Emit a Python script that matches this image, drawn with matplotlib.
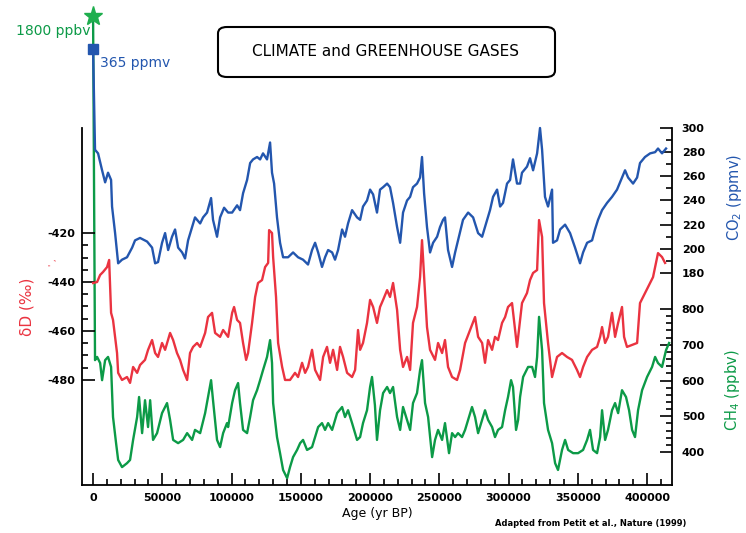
import numpy as np
import matplotlib
matplotlib.use("Agg")
from matplotlib import pyplot as plt
from matplotlib.patches import FancyBboxPatch

# Vostok ice core record: deuterium, CO2 and CH4 over the last four glacial cycles
co2_age = [1400, 3600, 6500, 8700, 10800, 13000, 13700, 15900, 18100, 20900,
           24500, 28200, 30300, 33900, 39000, 42600, 44800, 46900, 49800, 52000,
           54200, 57000, 59200, 61400, 64300, 66400, 68600, 71500, 73600, 77300,
           79400, 82300, 85200, 86600, 89500, 91700, 94600, 97500, 100400, 104000,
           106100, 108300, 111200, 113400, 115500, 118400, 120600, 122700, 125600, 127800,
           129200, 130700, 132800, 135000, 137200, 140800, 144400, 148000, 151600, 155200,
           158100, 160300, 162500, 165300, 167500, 169700, 172600, 174700, 176900, 179800,
           181900, 184100, 187000, 190600, 192800, 194900, 197800, 200000, 202200, 205000,
           207200, 209400, 212300, 214400, 216600, 219500, 221700, 223800, 226700, 228900,
           231000, 233900, 236100, 237500, 239000, 241100, 243300, 245500, 248400, 250500,
           252700, 254100, 256300, 259200, 261400, 263500, 267100, 270800, 274400, 278000,
           280900, 283000, 286600, 288800, 291700, 293900, 296000, 298900, 301100, 303200,
           306100, 308300, 309700, 313300, 315500, 317700, 320600, 322700, 324200, 326300,
           328500, 331400, 332100, 335000, 337200, 340800, 344400, 348000, 351600, 353800,
           356700, 360300, 362400, 364600, 367500, 371100, 374700, 378300, 381900, 384100,
           386300, 389900, 392800, 394900, 398500, 402200, 405800, 407900, 410800, 413700]
co2_ppmv = [282, 279, 265, 255, 263, 257, 235, 213, 188, 191,
            193, 201, 207, 209, 206, 201, 188, 189, 205, 213,
            199, 210, 216, 201, 197, 192, 207, 218, 226, 221,
            226, 230, 242, 224, 210, 226, 234, 230, 230, 236,
            232, 246, 257, 271, 274, 276, 274, 279, 274, 288,
            263, 254, 226, 205, 193, 193, 197, 193, 191, 187,
            199, 205, 197, 185, 193, 199, 197, 191, 199, 216,
            210, 221, 232, 226, 224, 235, 240, 249, 245, 230,
            249, 251, 254, 251, 238, 218, 205, 230, 240, 243,
            251, 254, 259, 276, 246, 218, 197, 205, 210, 218,
            224, 226, 199, 185, 197, 207, 224, 230, 226, 213,
            210, 218, 232, 243, 249, 235, 238, 254, 257, 274,
            254, 254, 263, 268, 275, 265, 279, 300, 282, 243,
            235, 249, 205, 207, 216, 220, 213, 201, 188, 197,
            205, 207, 216, 224, 232, 238, 243, 249, 259, 265,
            259, 254, 259, 271, 276, 279, 280, 283, 279, 283]

dd_age = [0, 2900, 5100, 7200, 10100, 11600, 13000, 14400, 17300, 18100,
          20900, 24500, 26700, 28900, 31800, 33900, 37500, 39700, 42600, 44800,
          46900, 49800, 52000, 55600, 57800, 60600, 62800, 65000, 67900, 70000,
          72200, 75100, 77300, 80900, 83000, 85900, 88100, 91700, 93900, 97500,
          100400, 101800, 104000, 106100, 108300, 110500, 111900, 114800, 117000, 119100,
          122000, 124200, 126400, 127100, 129200, 130000, 132100, 133600, 136500, 138600,
          142200, 145800, 148000, 150900, 153100, 155200, 158100, 160300, 163900, 166100,
          168900, 171100, 173300, 176200, 178300, 180500, 183400, 187000, 189200, 191300,
          192800, 194900, 197800, 200000, 202200, 205000, 207200, 209400, 212300, 214400,
          216600, 219500, 221700, 223800, 226700, 228900, 231000, 233900, 236100, 237500,
          239000, 241100, 243300, 246900, 249100, 252000, 254100, 256300, 259200, 262800,
          265000, 268600, 272200, 275800, 278000, 280900, 283000, 285200, 288100, 290200,
          292400, 295300, 297500, 299600, 302500, 304700, 306100, 309700, 313300, 315500,
          317700, 320600, 322000, 324200, 325600, 328500, 331400, 335000, 338600, 342200,
          345800, 349400, 351600, 353800, 356700, 360300, 363900, 366100, 367500, 369700,
          371800, 374700, 376900, 379100, 381900, 383400, 385500, 389200, 392800, 394900,
          397100, 400700, 404300, 407900, 410800, 413000]
dd_permil = [-440.4, -440.0, -437.1, -435.9, -433.9, -431.0, -452.6, -455.5, -469.0, -477.1,
             -480.0, -478.8, -481.2, -474.7, -477.1, -473.9, -471.8, -467.7, -463.7, -469.0,
             -470.6, -464.9, -467.7, -460.8, -463.7, -469.0, -471.8, -475.9, -480.0, -469.0,
             -466.5, -464.9, -466.5, -460.8, -454.3, -452.6, -460.8, -462.4, -459.6, -462.4,
             -452.6, -450.2, -455.5, -456.7, -464.9, -471.8, -469.0, -456.7, -446.1, -440.4,
             -439.2, -433.9, -432.2, -418.8, -420.0, -429.8, -446.1, -464.9, -474.7, -480.0,
             -480.0, -477.1, -478.8, -473.0, -477.1, -474.7, -467.7, -475.9, -480.0, -470.6,
             -466.5, -473.0, -467.7, -475.9, -466.5, -470.6, -477.1, -478.8, -475.9, -459.6,
             -467.7, -464.9, -456.7, -447.3, -450.2, -456.7, -450.2, -447.3, -443.3, -446.1,
             -440.4, -451.4, -467.7, -474.7, -470.6, -475.9, -456.7, -450.2, -438.0, -422.9,
             -438.0, -458.4, -467.7, -471.8, -464.9, -469.0, -463.7, -474.7, -478.8, -480.0,
             -475.9, -464.9, -459.6, -454.3, -462.4, -464.9, -473.0, -463.7, -467.7, -462.4,
             -463.7, -456.7, -454.3, -450.2, -448.6, -459.6, -466.5, -448.6, -444.5, -439.2,
             -436.3, -435.1, -414.7, -421.6, -448.6, -464.9, -478.8, -470.6, -469.0, -470.6,
             -471.8, -475.9, -478.8, -474.7, -470.6, -467.7, -466.5, -462.4, -458.4, -464.9,
             -462.4, -452.6, -462.4, -456.7, -450.2, -462.4, -466.5, -465.7, -464.9, -448.6,
             -446.1, -442.0, -438.0, -428.2, -429.8, -432.2]

ch4_age = [1400, 2900, 5100, 6500, 8700, 10800, 13000, 14400, 16600, 18100,
           20900, 24500, 26700, 28900, 31800, 33200, 35400, 37500, 39700, 41200,
           43300, 46200, 49800, 53400, 55600, 57800, 61400, 65000, 67900, 71500,
           73600, 77300, 80900, 83000, 85200, 86600, 89500, 91700, 93900, 96700,
           97500, 100400, 102500, 104700, 106100, 108300, 111200, 113400, 115500, 118400,
           120600, 122700, 125600, 127800, 129200, 130000, 132800, 135000, 137200, 140100,
           142200, 144400, 147300, 149500, 151600, 154500, 158100, 160300, 162500, 165300,
           167500, 169700, 172600, 176200, 179800, 181900, 184100, 187000, 190600, 192800,
           194900, 197800, 200000, 201400, 203500, 205000, 207200, 209400, 212300, 214400,
           216600, 219500, 221700, 223800, 226700, 228900, 231000, 233900, 236100, 237500,
           239700, 241900, 244800, 246900, 249100, 252000, 254100, 257000, 259200, 261400,
           263500, 266400, 268600, 270800, 273600, 275800, 278000, 280900, 283000, 285200,
           288100, 290200, 292400, 295300, 297500, 299600, 301800, 303200, 305400, 306900,
           308300, 310500, 314100, 317000, 319100, 320600, 322000, 324200, 325600, 328500,
           331400, 333600, 335700, 338600, 340800, 343000, 346600, 350200, 353800, 356700,
           358800, 361000, 363900, 366100, 367500, 369700, 371800, 374700, 376900, 379100,
           381900, 384800, 387000, 389200, 391300, 393500, 396400, 400000, 403600, 405800,
           407900, 410800, 413700, 415900]
ch4_ppbv = [657, 666, 649, 601, 657, 666, 638, 498, 425, 378,
            358, 369, 378, 434, 498, 554, 453, 545, 470, 545,
            434, 453, 509, 537, 490, 434, 425, 434, 453, 434,
            462, 453, 509, 554, 601, 545, 434, 414, 453, 481,
            470, 537, 573, 593, 537, 462, 453, 498, 545, 573,
            601, 629, 666, 713, 649, 537, 442, 397, 350, 327,
            358, 386, 406, 425, 434, 406, 414, 442, 470, 481,
            462, 481, 462, 509, 526, 498, 517, 481, 434, 442,
            481, 517, 582, 610, 531, 434, 517, 565, 582, 565,
            582, 498, 462, 526, 490, 462, 537, 565, 629, 657,
            537, 498, 386, 434, 462, 434, 481, 397, 453, 442,
            453, 442, 462, 490, 526, 498, 453, 490, 517, 490,
            470, 442, 462, 470, 517, 554, 601, 582, 462, 490,
            554, 610, 638, 638, 610, 666, 778, 685, 537, 462,
            425, 369, 350, 406, 434, 406, 397, 397, 406, 434,
            462, 406, 397, 442, 517, 434, 462, 517, 537, 509,
            573, 554, 517, 462, 442, 517, 573, 610, 638, 666,
            649, 638, 685, 705]

# present-day atmospheric values
co2_modern = 365
ch4_modern = 1800

age_ticks = [0, 50000, 100000, 150000, 200000, 250000, 300000, 350000, 400000]
dd_ticks = [-480, -460, -440, -420]
co2_ticks = [180, 200, 220, 240, 260, 280, 300]
ch4_ticks = [400, 500, 600, 700, 800]

BLUE = '#2356ae'
RED = '#ea3340'
GREEN = '#0c9a47'
STAR = '#1fae4e'


def ch4_forward(v):
    # values above 800 ppbv are squeezed so the modern level fits on the page
    v = np.asarray(v, dtype=float)
    return np.where(v <= 800, v, 800 + (v - 800) * 0.82)


def ch4_inverse(u):
    u = np.asarray(u, dtype=float)
    return np.where(u <= 800, u, 800 + (u - 800) / 0.82)


fig = plt.figure(figsize=(7.46, 5.33), dpi=100)
rect = [82 / 746, 1 - 485 / 533, (672 - 82) / 746, (485 - 128) / 533]

ax = fig.add_axes(rect)           # CH4, drawn lowest
ax_dd = ax.twinx()                # deuterium, left axis
ax_co2 = ax.twinx()               # CO2, drawn on top

ax.plot([0] + ch4_age, [ch4_modern] + ch4_ppbv, color=GREEN, lw=1.7, clip_on=False)
ax.plot([0], [ch4_modern], marker='*', ms=14, color=STAR, clip_on=False, zorder=5)
ax_dd.plot(dd_age, dd_permil, color=RED, lw=1.7)
ax_co2.plot([0] + co2_age, [co2_modern] + co2_ppmv, color=BLUE, lw=1.7, clip_on=False)
ax_co2.plot([0], [co2_modern], marker='s', ms=7, color=BLUE, clip_on=False, zorder=5)

ax.set_xlim(-8000, 418000)
ax.set_yscale('function', functions=(ch4_forward, ch4_inverse))
ax.set_ylim(308, 1417)
ax_dd.set_ylim(-522.9, -377.1)
ax_co2.set_ylim(4.5, 300)

# modern value labels
ax.annotate(f'{ch4_modern} ppbv', xy=(0, ch4_modern), xytext=(-2, -11),
            textcoords='offset points', ha='right', va='center',
            color=GREEN, fontsize=10, annotation_clip=False)
ax_co2.annotate(f'{co2_modern} ppmv', xy=(0, co2_modern), xytext=(5, -10),
                textcoords='offset points', ha='left', va='center',
                color=BLUE, fontsize=10, annotation_clip=False)

# spines
for a in (ax, ax_dd, ax_co2):
    a.spines['top'].set_visible(False)
    for s in a.spines.values():
        s.set_linewidth(1.3)
ax.spines['left'].set_visible(False)
for s in ('right', 'bottom'):
    ax_dd.spines[s].set_visible(False)
for s in ('left', 'right', 'bottom'):
    ax_co2.spines[s].set_visible(False)

tick_font = dict(fontsize=8, fontweight='bold')

# x axis
ax.set_xticks(age_ticks, [str(t) for t in age_ticks], **tick_font)
ax.set_xticks(np.arange(0, 410001, 10000), minor=True)
ax.tick_params(axis='x', which='both', direction='in', width=1.2, pad=6)
ax.tick_params(axis='x', which='major', length=9)
ax.tick_params(axis='x', which='minor', length=4)

# CH4 on the right
ax.yaxis.tick_right()
ax.set_yticks(ch4_ticks, [str(t) for t in ch4_ticks], **tick_font)
ax.set_yticks(np.arange(400, 801, 20), minor=True)
ax.tick_params(axis='y', which='both', direction='in', width=1.2, pad=7,
               left=False, right=True, labelleft=False, labelright=True)
ax.tick_params(axis='y', which='major', length=9)
ax.tick_params(axis='y', which='minor', length=4)

# deuterium on the left
ax_dd.yaxis.tick_left()
ax_dd.set_yticks(dd_ticks, [str(t) for t in dd_ticks], **tick_font)
ax_dd.set_yticks(np.arange(-480, -419, 5), minor=True)
ax_dd.tick_params(axis='y', which='both', direction='in', width=1.2, pad=5,
                  left=True, right=False, labelleft=True, labelright=False)
ax_dd.tick_params(axis='y', which='major', length=9)
ax_dd.tick_params(axis='y', which='minor', length=4)

# CO2 on the right
ax_co2.set_yticks(co2_ticks, [str(t) for t in co2_ticks], **tick_font)
ax_co2.set_yticks(np.arange(180, 301, 10), minor=True)
ax_co2.tick_params(axis='y', which='both', direction='in', width=1.2, pad=7)
ax_co2.tick_params(axis='y', which='major', length=9)
ax_co2.tick_params(axis='y', which='minor', length=4)

# axis titles
fig.text(27 / 746, 1 - 307 / 533, 'δD (‰)', rotation=90, color=RED,
         ha='center', va='center', fontsize=11)
fig.text(53 / 746, 1 - 262 / 533, "' ,", rotation=90, color=RED,
         ha='center', va='center', fontsize=6)
fig.text(735 / 746, 1 - 197 / 533, 'CO$_2$ (ppmv)', rotation=90, color=BLUE,
         ha='center', va='center', fontsize=10.5)
fig.text(733 / 746, 1 - 390 / 533, 'CH$_4$ (ppbv)', rotation=90, color=GREEN,
         ha='center', va='center', fontsize=10.5)
fig.text(377 / 746, 1 - 514 / 533, 'Age (yr BP)', ha='center', va='center', fontsize=9)
fig.text(495 / 746, 1 - 523 / 533, 'Adapted from Petit et al., Nature (1999)',
         ha='left', va='center', fontsize=6, fontweight='bold')

# title box
box = FancyBboxPatch((218 / 746, 1 - 77 / 533), (555 - 218) / 746, 50 / 533,
                     boxstyle='round,pad=0,rounding_size=0.012',
                     transform=fig.transFigure, facecolor='white',
                     edgecolor='black', linewidth=1.5)
fig.patches.append(box)
fig.text(386 / 746, 1 - 52 / 533, 'CLIMATE and GREENHOUSE GASES',
         ha='center', va='center', fontsize=11)

fig.savefig('out.png', dpi=100)
